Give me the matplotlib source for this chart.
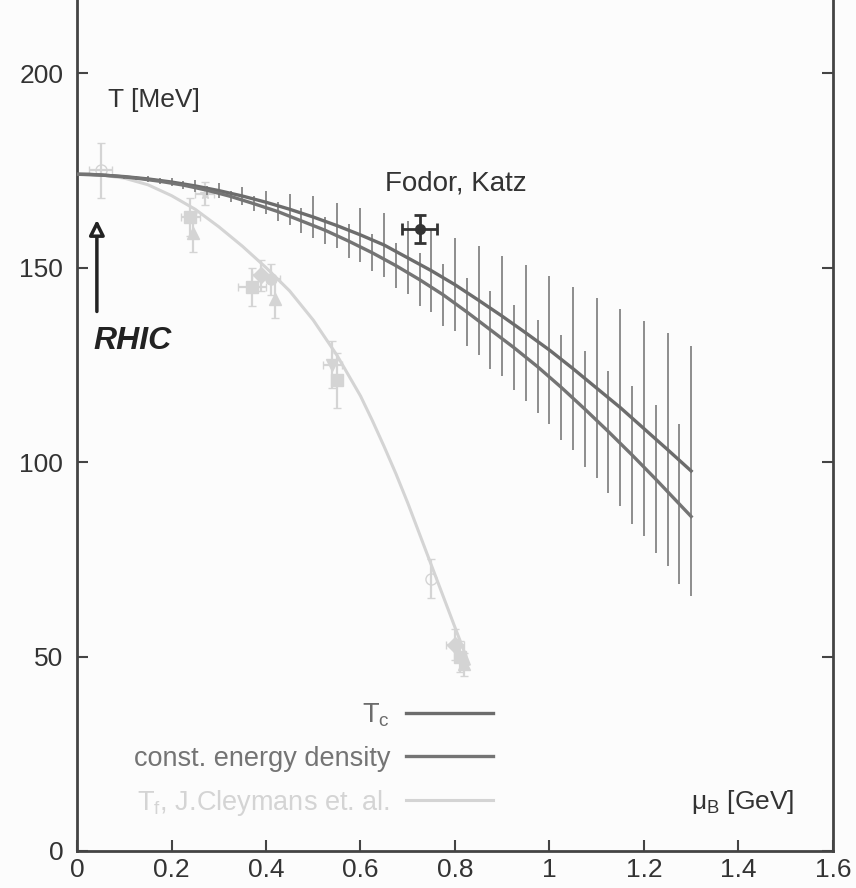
import matplotlib
matplotlib.use("Agg")
import matplotlib.pyplot as plt

plt.rcParams['font.family'] = ['Liberation Sans', 'DejaVu Sans']

# T_c line (lattice), error bars every 0.05 GeV
tc_mu = [0.0, 0.05, 0.1, 0.15, 0.2, 0.25, 0.3, 0.35, 0.4, 0.45, 0.5, 0.55, 0.6, 0.65,
         0.7, 0.75, 0.8, 0.85, 0.9, 0.95, 1.0, 1.05, 1.1, 1.15, 1.2, 1.25, 1.3]
tc_T = [174, 173.8, 173.4, 172.8, 172, 171, 169.8, 168.4, 166.8, 165, 163, 160.8, 158.4, 155.8,
        152.5, 149.2, 145.6, 141.6, 137.5, 133.2, 128.8, 124, 119, 114, 108.6, 103.2, 97.7]
tc_err = [0, 0.3, 0.5, 0.8, 1.1, 1.5, 2, 2.2, 3, 4, 5.3, 5.8, 6.9, 8.2,
          9.4, 10.5, 12, 14, 15.5, 17.4, 19, 21, 23.2, 25.4, 27.7, 30, 32.2]

# constant energy density line, bars shifted by 0.025
ed_mu = [0.0, 0.025, 0.075, 0.125, 0.175, 0.225, 0.275, 0.325, 0.375, 0.425, 0.475, 0.525, 0.575, 0.625,
         0.675, 0.725, 0.775, 0.825, 0.875, 0.925, 0.975, 1.025, 1.075, 1.125, 1.175, 1.225, 1.275, 1.3]
ed_T = [174, 174, 173.6, 173, 172.2, 171.2, 169.9, 168.3, 166.4, 164.4, 162, 159.6, 156.8, 153.8,
        150.5, 146.9, 143, 138.6, 134, 129.4, 124.5, 119.2, 113.6, 107.8, 101.8, 95.6, 89.2, 86]
ed_err = [0, 0.2, 0.4, 0.6, 0.8, 1.0, 1.2, 1.5, 1.9, 2.4, 3.2, 3.5, 4.3, 4.8,
          5.8, 6.9, 8, 8.7, 10.1, 11, 12, 13.5, 15, 15.7, 17.8, 19, 20.6, 0]

# freeze-out curve (Cleymans et al.)
fo_curve_mu = [0.0, 0.05, 0.1, 0.15, 0.2, 0.25, 0.3, 0.35, 0.4, 0.45, 0.5, 0.55, 0.6, 0.625,
               0.65, 0.675, 0.7, 0.725, 0.75, 0.775, 0.8, 0.83]
fo_curve_T = [174, 173.8, 173, 171.3, 168.5, 165, 160.5, 155.5, 150, 144, 136.5, 127.5, 117, 110.7,
              104, 97, 89.5, 81.5, 73.5, 65.5, 57.5, 48]

# freeze-out data points
fo_mu = [0.05, 0.24, 0.245, 0.27, 0.37, 0.39, 0.41, 0.42, 0.54, 0.55, 0.75, 0.80, 0.81, 0.82]
fo_T = [175, 163, 159, 169, 145, 148, 147, 142, 125, 121, 70, 53, 50, 48]
fo_Terr = [7, 5, 5, 3, 5, 4, 4, 5, 6, 7, 5, 4, 4, 3]
fo_muerr = [0.025, 0.02, 0.0, 0.02, 0.03, 0.02, 0.02, 0.0, 0.02, 0.0, 0.0, 0.02, 0.0, 0.0]

# Fodor, Katz critical point
fk_mu, fk_T = 0.725, 160
fk_muerr, fk_Terr = 0.037, 3.6

legend_labels = ["T$_\\mathregular{c}$", "const. energy density", "T$_\\mathregular{f}$, J.Cleymans et. al."]

dark = '#6c6c6c'
barcol = '#8e8e8e'
light = '#d4d4d4'

fig = plt.figure(figsize=(8.56, 8.88), dpi=100, facecolor='#fcfcfc')
ax = fig.add_axes([0.090, 0.0417, 0.883, 0.9583])
ax.set_facecolor('#fcfcfc')

# freeze-out curve and points
ax.plot(fo_curve_mu, fo_curve_T, color=light, lw=2.2, zorder=2)
markers = ['o', 's', '^', '*', 's', 'D', 'o', '^', 'v', 's', 'o', 'D', 's', '^']
for i in range(len(fo_mu)):
    ax.errorbar(fo_mu[i], fo_T[i], yerr=fo_Terr[i], xerr=fo_muerr[i] or None,
                fmt=markers[i], ms=8, mfc='none' if i in (0, 10) else light,
                mec=light, ecolor=light, elinewidth=1.6, capsize=3, zorder=2)

# error bars of the lattice bands
ax.errorbar(tc_mu[1:], tc_T[1:], yerr=tc_err[1:], fmt='none', ecolor=barcol, elinewidth=1.4, zorder=3)
ax.errorbar(ed_mu[1:-1], ed_T[1:-1], yerr=ed_err[1:-1], fmt='none', ecolor=barcol, elinewidth=1.4, zorder=3)

l1, = ax.plot(tc_mu, tc_T, color=dark, lw=2.4, zorder=4, label=legend_labels[0])
l2, = ax.plot(ed_mu, ed_T, color='#747474', lw=2.4, zorder=4, label=legend_labels[1])
l3, = ax.plot([], [], color=light, lw=2.2, label=legend_labels[2])

# Fodor, Katz point
ax.errorbar(fk_mu, fk_T, xerr=fk_muerr, yerr=fk_Terr, fmt='o', ms=7, color='#333333',
            elinewidth=2, capsize=4, capthick=2, zorder=5)
ax.text(0.652, 171.5, "Fodor, Katz", fontsize=20, color='#333333', va='center', ha='left')

# handwritten RHIC arrow
ax.annotate("", xy=(0.042, 163), xytext=(0.042, 138),
            arrowprops=dict(arrowstyle='-|>,head_width=0.45,head_length=0.9', ec='#222222',
                            fc='white', lw=2.5))
ax.text(0.035, 131, "RHIC", fontsize=23, fontstyle='italic', fontweight='bold',
        color='#222222', va='center', ha='left')

ax.text(0.065, 193, "T [MeV]", fontsize=19, color='#333333', va='center', ha='left')
ax.text(1.30, 12.5, "$\\mathregular{\\mu_B}$ [GeV]", fontsize=19, color='#333333', va='center', ha='left')

ax.set_xlim(0, 1.6)
ax.set_ylim(0, 218.8)
ax.set_xticks([0, 0.2, 0.4, 0.6, 0.8, 1, 1.2, 1.4, 1.6])
ax.set_xticklabels(['0', '0.2', '0.4', '0.6', '0.8', '1', '1.2', '1.4', '1.6'])
ax.set_yticks([0, 50, 100, 150, 200])
ax.tick_params(direction='in', length=8, width=1.5, colors='#444444', labelsize=19,
               right=True, top=False, labelcolor='#333333')
ax.tick_params(axis='x', pad=5)
ax.tick_params(axis='y', pad=10)
ax.spines['top'].set_visible(False)
for s in ('left', 'right', 'bottom'):
    ax.spines[s].set_color('#444444')
    ax.spines[s].set_linewidth(2)

ax.legend(handles=[l1, l2, l3], loc='lower right', bbox_to_anchor=(0.5505, 0.039),
          frameon=False, markerfirst=False, labelcolor='linecolor', fontsize=19.5,
          handlelength=3.2, handletextpad=0.6, labelspacing=0.6, borderpad=0, borderaxespad=0)

fig.savefig("out.png", dpi=100, facecolor=fig.get_facecolor())
